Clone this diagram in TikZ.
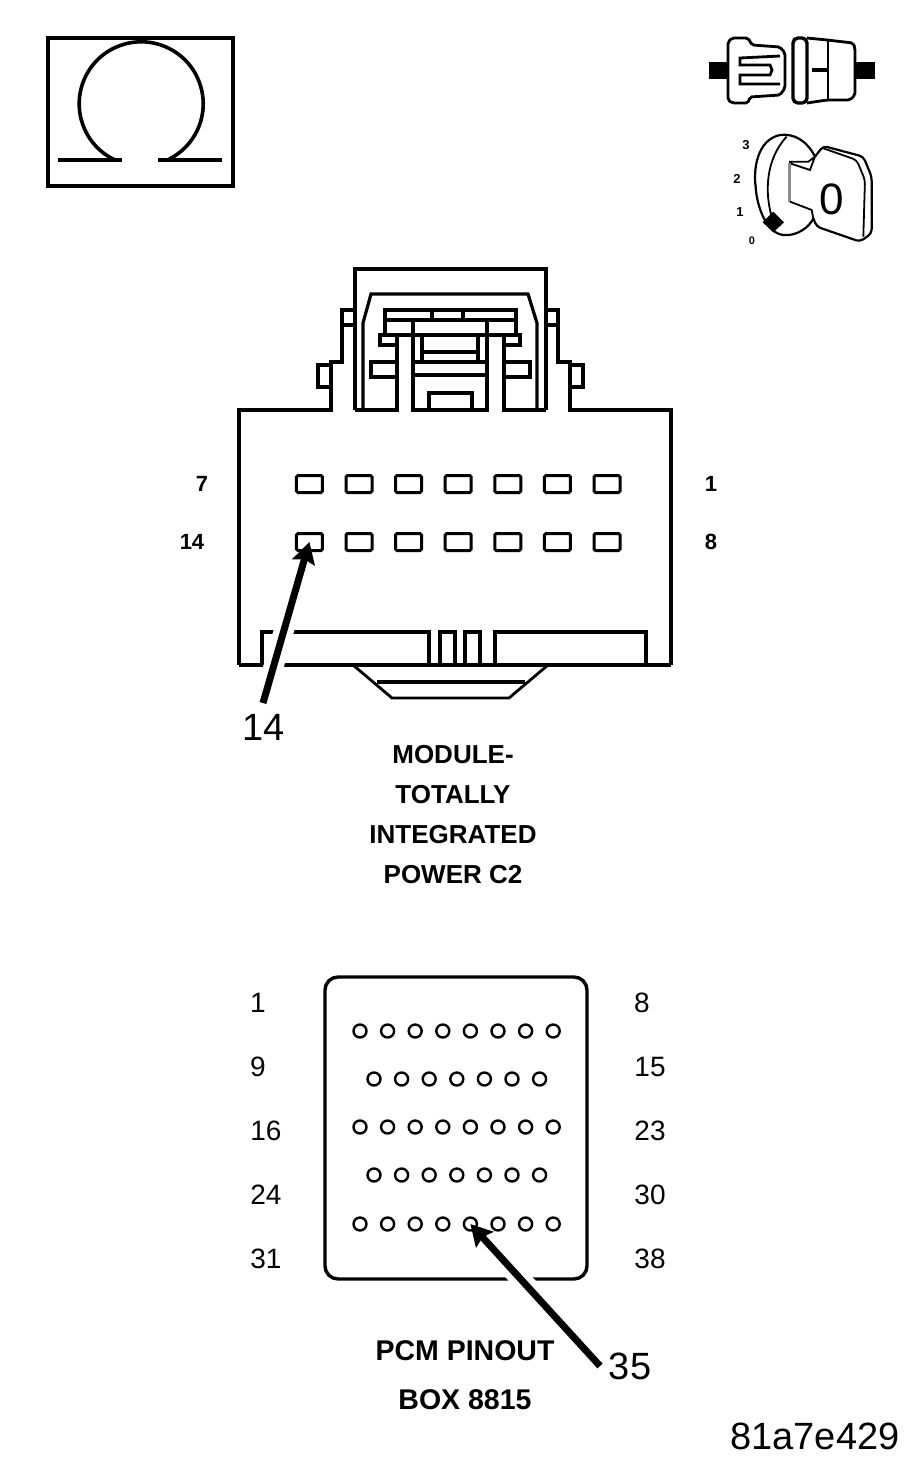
\documentclass[tikz,border=0pt]{standalone}
\usepackage{fontspec}
\setmainfont{Liberation Sans}
\usetikzlibrary{arrows.meta}
\begin{document}
\begin{tikzpicture}[x=1pt,y=-1pt,line join=miter]
\tikzstyle{heavy}=[line width=3.2pt];
\tikzstyle{thin line}=[line width=2.8pt];
\tikzstyle{pinbox}=[draw,line width=3pt,rounded corners=1.5pt,minimum width=26pt,minimum height=17pt,inner sep=0pt];
\tikzstyle{pinhole}=[draw,circle,line width=2.4pt,minimum size=13pt,inner sep=0pt];
\tikzstyle{tiny}=[inner sep=0pt,font=\fontsize{13}{13}\bfseries\selectfont];
\tikzstyle{small}=[inner sep=0pt,font=\fontsize{22}{22}\bfseries\selectfont];
\tikzstyle{title}=[inner sep=0pt,font=\fontsize{26}{26}\bfseries\selectfont];
\tikzstyle{boxtitle}=[inner sep=0pt,font=\fontsize{28.5}{28.5}\bfseries\selectfont];
\tikzstyle{pinnum}=[inner sep=0pt,font=\fontsize{28}{28}\selectfont];
\tikzstyle{callout}=[inner sep=0pt,font=\fontsize{38}{38}\selectfont];
\tikzstyle{leader}=[line width=7pt,-{Stealth[length=21pt,width=23pt,inset=3pt]}];
\tikzstyle{halo}=[line width=20pt,white,shorten >=30pt];
\useasboundingbox (0,0) rectangle (917,1467);
% ohm symbol
\draw [line width=4.4pt] (48,38) rectangle (233,186);
\draw [line width=4pt] (58,160) -- (122,160);
\draw [line width=4pt] (158,160) -- (222,160);
\draw [line width=3.6pt] (115,160) arc [start angle=115, end angle=425, radius=62];
% switch
\fill (709,62) rectangle (729,79);
\fill (856,62) rectangle (875,79);
\draw [thin line,rounded corners=2pt] (732,38) -- (748,38) -- (752,45) -- (780,47) -- (785,53) -- (785,88) -- (780,95) -- (750,97) -- (748,103) -- (732,103) -- (728,100) -- (728,42) -- cycle;
\draw [thin line] (780,56) -- (740,58) -- (740,65) -- (770,65) -- (772,70) -- (770,75) -- (740,75) -- (740,84) -- (780,84);
\draw [line width=3.4pt,rounded corners=5pt] (793,38) rectangle (807,103);
\draw [thin line,rounded corners=2pt] (807,38) -- (827,40) -- (853,43) -- (855,48) -- (855,95) -- (850,100) -- (827,100) -- (807,103);
\draw [line width=1.6pt] (828,40) -- (828,100);
\draw [heavy] (812,70) -- (827,70);
% key, in zoomed units
\begin{scope}[shift={(690,20)},x=0.3333pt,y=-0.3333pt]
\draw [line width=1.8pt] (245,590) .. controls (225,520) and (225,420) .. (290,350);
\draw [line width=2.2pt] (375,410) .. controls (350,360) and (310,340) .. (270,345) .. controls (200,360) and (190,450) .. (197,500) .. controls (200,560) and (230,640) .. (280,645) .. controls (320,650) and (360,620) .. (370,595);
\draw [line width=1.8pt] (375,410) -- (355,425) -- (300,425) -- (300,430) -- (360,450) -- (375,410);
\draw [line width=3pt,black!45] (300,430) -- (300,545);
\draw [line width=1.8pt] (300,545) -- (365,570) -- (370,595);
\draw [line width=2.2pt,rounded corners=4pt] (375,410) -- (400,378) -- (520,410) -- (545,470) -- (545,640) -- (510,665) -- (380,620) -- (370,595);
\draw [line width=1.8pt,rounded corners=4pt] (400,385) -- (500,420) -- (525,480) -- (520,650);
\fill (250,575) -- (282,607) -- (250,637) -- (218,607) -- cycle;
\end{scope}
\node [tiny] (k3) at (746,145) {3};
\node [tiny] (k2) at (737,179) {2};
\node [tiny] (k1) at (740,212) {1};
\node [tiny,font=\fontsize{11}{11}\bfseries\selectfont] (k0) at (752,241) {0};
\node [inner sep=0pt,font=\fontsize{44}{44}\selectfont] (k) at (832,199) {0};
% module connector, latch
\draw [heavy] (239,665) -- (239,410) -- (331,410) -- (331,362) -- (342,362) -- (342,310) -- (355,310);
\draw [heavy] (671,665) -- (671,410) -- (570,410) -- (570,362) -- (558,362) -- (558,310) -- (546,310);
\draw [heavy] (342,325) -- (355,325);
\draw [heavy] (558,325) -- (546,325);
\draw [heavy] (331,365) -- (318,365) -- (318,387) -- (331,387);
\draw [heavy] (570,365) -- (583,365) -- (583,387) -- (570,387);
\draw [line width=4pt] (355,410) -- (355,269) -- (546,269) -- (546,410);
\draw [heavy] (363,410) -- (363,323) -- (371,294) -- (528,294) -- (537,323) -- (537,410);
\draw [heavy] (355,410) -- (397,410) -- (397,335);
\draw [heavy] (546,410) -- (504,410) -- (504,335);
\draw [heavy] (413,320) -- (413,410) -- (487,410) -- (487,320);
\draw [line width=3.6pt] (385,335) -- (385,310) -- (516,310) -- (516,335);
\draw [line width=3.6pt] (385,320) -- (516,320);
\draw [heavy] (432,310) -- (432,320);
\draw [heavy] (463,310) -- (463,320);
\draw [heavy] (380,335) -- (520,335);
\draw [heavy] (397,335) -- (380,335) -- (380,345) -- (397,345);
\draw [heavy] (504,335) -- (520,335) -- (520,345) -- (504,345);
\draw [heavy] (397,362) -- (371,362) -- (371,377) -- (397,377);
\draw [heavy] (504,362) -- (530,362) -- (530,377) -- (504,377);
\draw [heavy] (422,335) -- (422,362);
\draw [heavy] (478,335) -- (478,362);
\draw [line width=4pt] (422,352) -- (478,352);
\draw [heavy] (413,362) -- (487,362);
\draw [heavy] (413,375) -- (487,375);
\draw [heavy] (429,410) -- (429,393) -- (472,393) -- (472,410);
% module connector, bottom
\draw [heavy] (239,665) -- (671,665);
\draw [heavy] (262,665) -- (262,632) -- (429,632) -- (429,665);
\draw [heavy] (495,665) -- (495,632) -- (646,632) -- (646,665);
\draw [heavy] (440,665) -- (440,632) -- (455,632) -- (455,665);
\draw [heavy] (465,665) -- (465,632) -- (480,632) -- (480,665);
\draw [thin line] (353,665) -- (392,698) -- (509,698) -- (548,665);
\draw [heavy] (377,682) -- (525,682);
\foreach \n in {1,...,7} {
\node [pinbox] (t\n) at (607-49.6*\n+49.6,484) {};
}
\foreach \n in {8,...,14} {
\node [pinbox] (t\n) at (607-49.6*\n+396.8,542) {};
}
\node [small] (l7) at (202,484) {7};
\node [small] (l14) at (192,542) {14};
\node [small] (l1) at (711,484) {1};
\node [small] (l8) at (711,542) {8};
\node [callout] (a14) at (264,727) {14};
\coordinate (s14) at (263,703);
\draw [halo] (s14) -- (t14.center);
\draw [leader] (s14) -- (t14.center);
\node [title] (m1) at (453,755) {MODULE-};
\node [title] (m2) at (453,795) {TOTALLY};
\node [title] (m3) at (453,835) {INTEGRATED};
\node [title] (m4) at (453,875) {POWER C2};
% pcm box
\draw [line width=3.4pt,rounded corners=13pt] (325,977) rectangle (587,1279);
\foreach \n in {1,...,8} {
\node [pinhole] (c\n) at (360+27.6*\n-27.6,1031) {};
}
\foreach \n in {9,...,15} {
\node [pinhole] (c\n) at (374+27.6*\n-248.4,1079) {};
}
\foreach \n in {16,...,23} {
\node [pinhole] (c\n) at (360+27.6*\n-441.6,1127) {};
}
\foreach \n in {24,...,30} {
\node [pinhole] (c\n) at (374+27.6*\n-662.4,1175) {};
}
\foreach \n in {31,...,38} {
\node [pinhole] (c\n) at (360+27.6*\n-855.6,1224) {};
}
\foreach \n/\x/\y in {1/258/1003,9/258/1067,16/266/1131,24/266/1195,31/266/1259,8/642/1003,15/650/1067,23/650/1131,30/650/1195,38/650/1259} {
\node [pinnum] (n\n) at (\x,\y) {\n};
}
\node [callout] (a35) at (630,1366) {35};
\coordinate (s35) at (600,1366);
\draw [halo] (s35) -- (c35.center);
\draw [leader] (s35) -- (c35.center);
\node [boxtitle] (b1) at (465,1351) {PCM PINOUT};
\node [boxtitle] (b2) at (465,1400) {BOX 8815};
\node [callout] (code) at (815,1436) {81a7e429};
\end{tikzpicture}
\end{document}
